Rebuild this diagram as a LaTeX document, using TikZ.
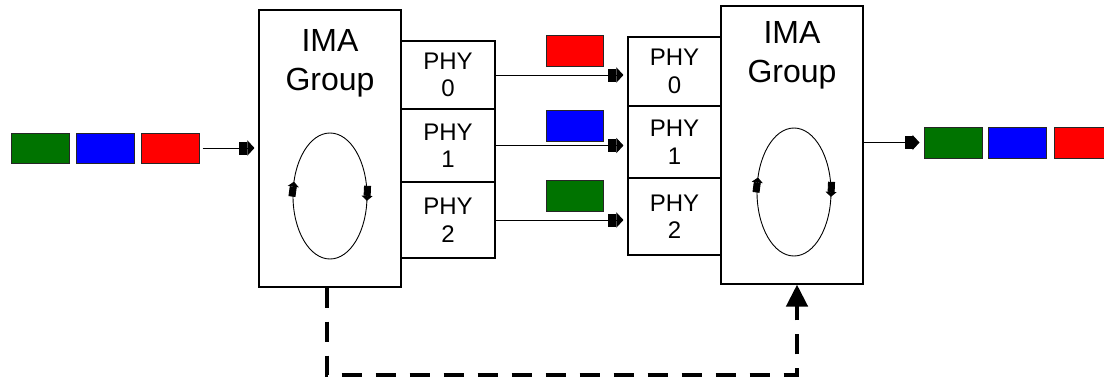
\documentclass[tikz,border=0pt]{standalone}
\usepackage{fontspec}
\setmainfont{Liberation Sans}
\usetikzlibrary{arrows.meta,decorations.markings}
\definecolor{cellred}{RGB}{255,0,0}
\definecolor{cellblue}{RGB}{0,0,255}
\definecolor{cellgreen}{RGB}{0,115,0}
\begin{document}
\begin{tikzpicture}[x=1pt,y=-1pt,
  rectbox/.style={draw, line width=1.1pt, inner sep=0pt, minimum width=#1},
  imatext/.style={inner sep=0pt, align=center, font=\fontsize{32}{39}\selectfont},
  phy/.style={rectbox=#1, align=center, font=\fontsize{24}{27.5}\selectfont},
  cell/.style={draw=black!85, line width=1pt, minimum width=58pt, minimum height=30pt, inner sep=0pt},
  link/.style={line width=1pt, -{Rectangle[width=13pt,length=8pt] Triangle[width=15pt,length=7pt]}, shorten >=4pt},
  loopline/.style={line width=0.9pt, postaction={decorate},
    decoration={markings,
      mark=at position 0.015 with {\arrow{Rectangle[width=7pt,length=10pt] Triangle[width=11pt,length=5pt]}},
      mark=at position 0.545 with {\arrow{Rectangle[width=7pt,length=10pt] Triangle[width=11pt,length=5pt]}}}},
  fbline/.style={line width=4.5pt, dash pattern=on 20pt off 14pt, line join=miter,
    -{Triangle[width=21pt,length=22pt]}}
]
\useasboundingbox (0,0) rectangle (1104,381);

% IMA group boxes
\node[rectbox=142pt, minimum height=277pt] (lima) at (330,148.5) {};
\node[rectbox=142pt, minimum height=278pt] (rima) at (792,145) {};
\node[imatext] (limaT) at (330,63) {IMA\\Group};
\node[imatext] (rimaT) at (792,55) {IMA\\Group};

% PHY boxes
\node[phy=94pt, minimum height=68pt] (lp0) at (448,75) {PHY\\0};
\node[phy=94pt, minimum height=73pt] (lp1) at (448,145.5) {PHY\\1};
\node[phy=94pt, minimum height=76pt] (lp2) at (448,220) {PHY\\2};
\node[phy=93pt, minimum height=69pt] (rp0) at (674.5,71.5) {PHY\\0};
\node[phy=93pt, minimum height=72pt] (rp1) at (674.5,142) {PHY\\1};
\node[phy=93pt, minimum height=77pt] (rp2) at (674.5,216.5) {PHY\\2};

% round-robin loops
\draw[loopline] (330,196) ellipse [x radius=37, y radius=63];
\draw[loopline] (794,192) ellipse [x radius=37, y radius=64];

% input cells
\node[cell, fill=cellgreen] (ig) at (40,148) {};
\node[cell, fill=cellblue] (ib) at (105,148) {};
\node[cell, fill=cellred] (ir) at (170,148) {};

% cells on links
\node[cell, fill=cellred, minimum width=57pt, minimum height=31pt] (mr) at (574.5,50.5) {};
\node[cell, fill=cellblue, minimum width=57pt, minimum height=31pt] (mb) at (574.5,125.5) {};
\node[cell, fill=cellgreen, minimum width=57pt, minimum height=31pt] (mg) at (574.5,196) {};

% output cells
\node[cell, fill=cellgreen, minimum height=31pt] (og) at (953,142.5) {};
\node[cell, fill=cellblue, minimum height=31pt] (ob) at (1017.5,142.5) {};
\node[cell, fill=cellred, minimum height=31pt] (orr) at (1083,142.5) {};

% connectors
\draw[link, shorten <=3pt] (ir.east) -- (ir.east -| lima.west);
\draw[link] (lp0.east) -- (lp0.east -| rp0.west);
\draw[link] (lp1.east) -- (lp1.east -| rp1.west);
\draw[link] (lp2.east) -- (lp2.east -| rp2.west);
\draw[link] (rima.east |- og.west) -- (og.west);

% feedback path
\coordinate (fbL) at (327,375);
\coordinate (fbR) at (797,375);
\draw[fbline] (lima.south -| fbL) -- (fbL) -- (fbR) -- (rima.south -| fbR);
\end{tikzpicture}
\end{document}
